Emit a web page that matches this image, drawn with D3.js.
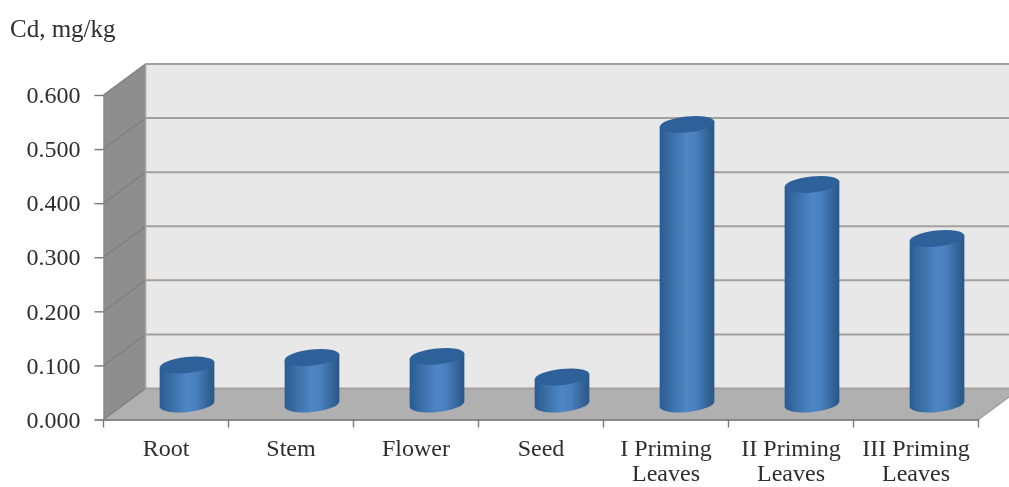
<!DOCTYPE html>
<html>
<head>
<meta charset="utf-8">
<script src="https://cdn.jsdelivr.net/npm/d3@7"></script>
<style>
  html, body { margin: 0; padding: 0; background: #fff; }
  text { font-family: "Liberation Serif", serif; fill: #2e2e2e; }
</style>
</head>
<body>
<div id="chart"></div>
<script>
var categories = ["Root", "Stem", "Flower", "Seed", "I Priming|Leaves", "II Priming|Leaves", "III Priming|Leaves"];
var values = [0.072, 0.086, 0.088, 0.05, 0.517, 0.406, 0.306];
var yTicks = [0, 0.1, 0.2, 0.3, 0.4, 0.5, 0.6];
var yTitle = "Cd, mg/kg";

var width = 1009;
var height = 487;
var depthX = 42;
var depthY = 31;
var barRx = 27.5;
var barRy = 8;
var tilt = 6 * Math.PI / 180;

var svg = d3.select("#chart").append("svg")
  .attr("width", width)
  .attr("height", height)
  .style("display", "block");

var defs = svg.append("defs");
defs.append("filter").attr("id", "soft")
  .append("feGaussianBlur").attr("stdDeviation", 0.6);

var grad = defs.append("linearGradient").attr("id", "barFill");
grad.selectAll("stop")
  .data([[0, "#2a5a94"], [0.14, "#35699f"], [0.5, "#4f86c4"], [0.66, "#4a80bf"], [0.88, "#336498"], [1, "#2a5688"]])
  .join("stop")
  .attr("offset", d => d[0])
  .attr("stop-color", d => d[1]);

var xScale = d3.scaleBand().domain(categories).range([103.5, 978.5]);
var yScale = d3.scaleLinear().domain([0, 0.6]).range([419.5, 95]);

var g = svg.append("g").attr("filter", "url(#soft)");

var x0 = xScale.range()[0], x1 = xScale.range()[1];
var yBase = yScale(0), yTop = yScale(0.6);

/* walls */
g.append("polygon")
  .attr("points", [[x0 + depthX, yTop - depthY], [width + 5, yTop - depthY], [width + 5, yBase - depthY], [x0 + depthX, yBase - depthY]].join(" "))
  .attr("fill", "#e8e8e8");
g.append("polygon")
  .attr("points", [[x0, yTop], [x0 + depthX, yTop - depthY], [x0 + depthX, yBase - depthY], [x0, yBase]].join(" "))
  .attr("fill", "#8e8e8e");
g.append("polygon")
  .attr("points", [[x0, yBase], [x0 + depthX, yBase - depthY], [x1 + depthX, yBase - depthY], [x1, yBase]].join(" "))
  .attr("fill", "#b0b0b0");

/* gridlines */
yTicks.forEach(function (t) {
  var y = yScale(t);
  g.append("line")
    .attr("x1", x0 + depthX).attr("x2", width + 5)
    .attr("y1", y - depthY).attr("y2", y - depthY)
    .attr("stroke", "#a59f9b").attr("stroke-width", 2);
  g.append("line")
    .attr("x1", x0).attr("x2", x0 + depthX)
    .attr("y1", y).attr("y2", y - depthY)
    .attr("stroke", "#7d7d7d").attr("stroke-width", 1.2);
});
g.append("line")
  .attr("x1", x0 + depthX).attr("x2", x0 + depthX)
  .attr("y1", yTop - depthY).attr("y2", yBase - depthY)
  .attr("stroke", "#a59f9b").attr("stroke-width", 1.5);
g.append("line")
  .attr("x1", x1).attr("x2", x1 + depthX)
  .attr("y1", yBase).attr("y2", yBase - depthY)
  .attr("stroke", "#9a9a9a").attr("stroke-width", 1.2);

/* axes */
var xAxis = d3.axisBottom(xScale).tickSize(0).tickFormat("");
var yAxis = d3.axisLeft(yScale).tickValues(yTicks).tickFormat(d3.format(".3f")).tickSize(9).tickPadding(14);

var xAxisG = g.append("g").attr("transform", `translate(0,${yBase})`).call(xAxis);
xAxisG.select(".domain").attr("stroke", "#8c8785").attr("stroke-width", 2);

var xTicks = g.append("g");
d3.range(categories.length + 1).forEach(function (i) {
  var x = x0 + i * xScale.bandwidth();
  xTicks.append("line")
    .attr("x1", x).attr("x2", x)
    .attr("y1", yBase).attr("y2", yBase + 8)
    .attr("stroke", "#777").attr("stroke-width", 1.4);
});

var yAxisG = g.append("g").attr("transform", `translate(${x0},0)`).call(yAxis);
yAxisG.select(".domain").attr("stroke", "#888").attr("stroke-width", 1);
yAxisG.selectAll(".tick line").attr("stroke", "#777").attr("stroke-width", 1.4);
yAxisG.selectAll(".tick text")
  .style("font-family", '"Liberation Serif", serif')
  .style("font-size", "24px")
  .style("fill", "#2e2e2e");

/* category labels */
categories.forEach(function (c) {
  var lines = c.split("|");
  var t = g.append("text")
    .attr("x", xScale(c) + xScale.bandwidth() / 2)
    .attr("y", 456)
    .attr("text-anchor", "middle")
    .style("font-size", "24px");
  lines.forEach(function (l, i) {
    t.append("tspan")
      .attr("x", xScale(c) + xScale.bandwidth() / 2)
      .attr("y", 456 + i * 25)
      .text(l);
  });
});

g.append("text").attr("x", 10).attr("y", 37).style("font-size", "25px").text(yTitle);

/* cylinders */
function ellipseEnds(cx, cy) {
  var dx = barRx * Math.cos(tilt), dy = barRx * Math.sin(tilt);
  return { lx: cx - dx, ly: cy + dy, rx: cx + dx, ry: cy - dy };
}
var tiltDeg = -tilt * 180 / Math.PI;
var bars = g.selectAll(".bar")
  .data(categories.map((c, i) => ({ c: c, v: values[i] })))
  .join("g")
  .attr("class", "bar");

bars.append("path")
  .attr("fill", "url(#barFill)")
  .attr("d", function (d) {
    var cx = xScale(d.c) + xScale.bandwidth() / 2 + depthX / 2;
    var base = ellipseEnds(cx, yScale(0) - depthY / 2);
    var top = ellipseEnds(cx, yScale(d.v) - depthY / 2);
    return `M${top.lx},${top.ly} L${base.lx},${base.ly} A${barRx},${barRy} ${tiltDeg} 0 0 ${base.rx},${base.ry} L${top.rx},${top.ry} Z`;
  });

bars.append("ellipse")
  .attr("cx", 0).attr("cy", 0)
  .attr("rx", barRx).attr("ry", barRy)
  .attr("fill", "#2e6199")
  .attr("transform", d => `translate(${xScale(d.c) + xScale.bandwidth() / 2 + depthX / 2},${yScale(d.v) - depthY / 2}) rotate(${tiltDeg})`);
</script>
</body>
</html>
